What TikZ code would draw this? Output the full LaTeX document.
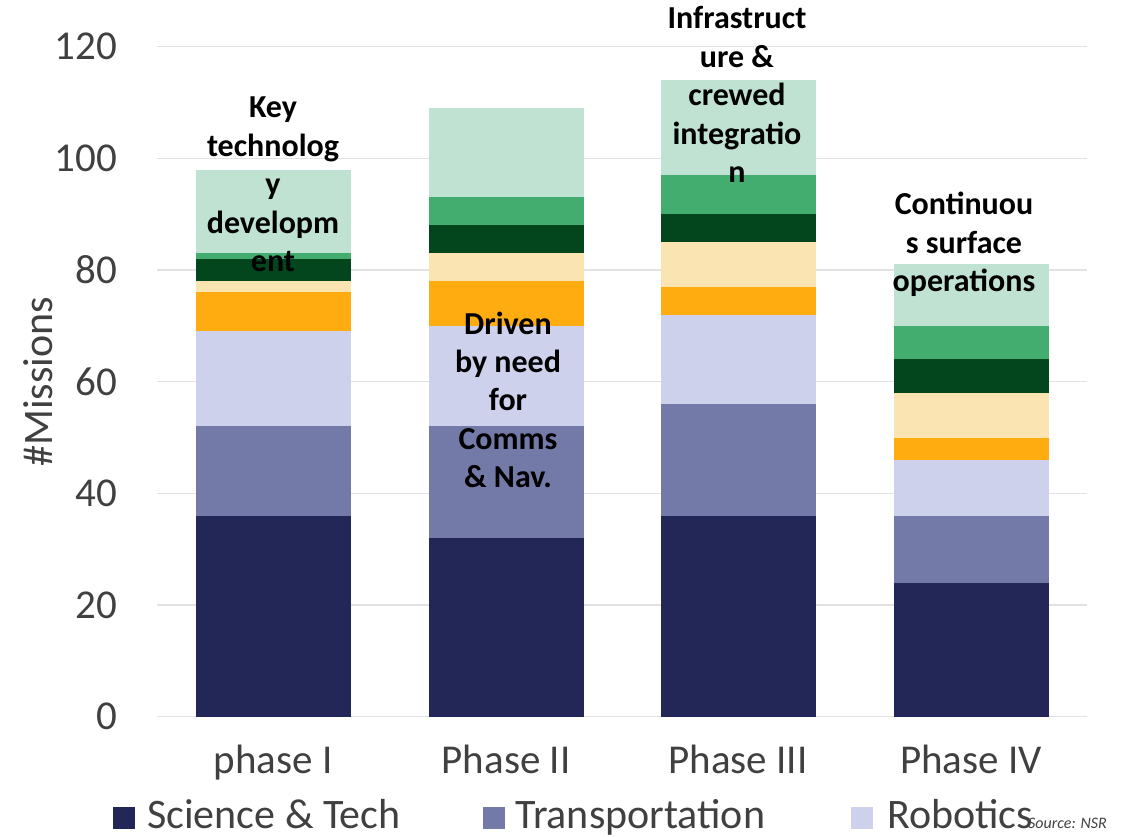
\documentclass[tikz,border=0pt]{standalone}
\usepackage{fontspec}
\setmainfont{Carlito}
\definecolor{sci}{HTML}{232757}
\definecolor{trans}{HTML}{737AA8}
\definecolor{robot}{HTML}{CDD1EC}
\definecolor{orng}{HTML}{FEAC10}
\definecolor{pale}{HTML}{FAE5B2}
\definecolor{dkgreen}{HTML}{03461E}
\definecolor{mdgreen}{HTML}{42AD6F}
\definecolor{ltgreen}{HTML}{C0E2D2}
\definecolor{gridgray}{HTML}{E2E2E2}
\definecolor{axisgray}{HTML}{404040}
\begin{document}
\begin{tikzpicture}[x=1pt, y=1pt,
  gridline/.style={draw=gridgray, line width=1.3pt},
  tick/.style={text=axisgray, font=\TICK, anchor=east, inner sep=0pt},
  cat/.style={text=axisgray, font=\TICK, anchor=base, inner sep=0pt},
  legtext/.style={text=axisgray, font=\LEG, anchor=base west, inner sep=0pt},
  legbox/.style={inner sep=0pt, minimum size=22pt, anchor=south west},
  note/.style={font=\NOTE, align=center, anchor=base, inner sep=0pt}]

  \newcommand\U{5.5833}
  \newcommand\W{155}
  \newcommand\BI{196}
  \newcommand\BII{428.5}
  \newcommand\BIII{661}
  \newcommand\BIV{893.5}
  \newcommand\TICK{\fontsize{41}{49}\selectfont}
  \newcommand\LEG{\fontsize{42}{50}\selectfont}
  \newcommand\NOTE{\fontsize{32}{38.5}\selectfont\bfseries}

  \useasboundingbox (0,-119.3) rectangle (1140,716.7);

  % grid and y ticks
  \draw[gridline] (157,0) -- (1087,0);
  \draw[gridline] (157,20*\U) -- (1087,20*\U);
  \draw[gridline] (157,40*\U) -- (1087,40*\U);
  \draw[gridline] (157,60*\U) -- (1087,60*\U);
  \draw[gridline] (157,80*\U) -- (1087,80*\U);
  \draw[gridline] (157,100*\U) -- (1087,100*\U);
  \draw[gridline] (157,120*\U) -- (1087,120*\U);
  \node[tick] (t0) at (117,0) {0};
  \node[tick] (t20) at (117,20*\U) {20};
  \node[tick] (t40) at (117,40*\U) {40};
  \node[tick] (t60) at (117,60*\U) {60};
  \node[tick] (t80) at (117,80*\U) {80};
  \node[tick] (t100) at (117,100*\U) {100};
  \node[tick] (t120) at (117,120*\U) {120};
  \node[text=axisgray, font=\LEG, rotate=90, inner sep=0pt] (ylab) at (38,334.7) {\#Missions};

  % phase I
  \fill[sci] (\BI,0) rectangle (\BI+\W,36*\U);
  \fill[trans] (\BI,36*\U) rectangle (\BI+\W,52*\U);
  \fill[robot] (\BI,52*\U) rectangle (\BI+\W,69*\U);
  \fill[orng] (\BI,69*\U) rectangle (\BI+\W,76*\U);
  \fill[pale] (\BI,76*\U) rectangle (\BI+\W,78*\U);
  \fill[dkgreen] (\BI,78*\U) rectangle (\BI+\W,82*\U);
  \fill[mdgreen] (\BI,82*\U) rectangle (\BI+\W,83*\U);
  \fill[ltgreen] (\BI,83*\U) rectangle (\BI+\W,98*\U);

  % phase II
  \fill[sci] (\BII,0) rectangle (\BII+\W,32*\U);
  \fill[trans] (\BII,32*\U) rectangle (\BII+\W,52*\U);
  \fill[robot] (\BII,52*\U) rectangle (\BII+\W,70*\U);
  \fill[orng] (\BII,70*\U) rectangle (\BII+\W,78*\U);
  \fill[pale] (\BII,78*\U) rectangle (\BII+\W,83*\U);
  \fill[dkgreen] (\BII,83*\U) rectangle (\BII+\W,88*\U);
  \fill[mdgreen] (\BII,88*\U) rectangle (\BII+\W,93*\U);
  \fill[ltgreen] (\BII,93*\U) rectangle (\BII+\W,109*\U);

  % phase III
  \fill[sci] (\BIII,0) rectangle (\BIII+\W,36*\U);
  \fill[trans] (\BIII,36*\U) rectangle (\BIII+\W,56*\U);
  \fill[robot] (\BIII,56*\U) rectangle (\BIII+\W,72*\U);
  \fill[orng] (\BIII,72*\U) rectangle (\BIII+\W,77*\U);
  \fill[pale] (\BIII,77*\U) rectangle (\BIII+\W,85*\U);
  \fill[dkgreen] (\BIII,85*\U) rectangle (\BIII+\W,90*\U);
  \fill[mdgreen] (\BIII,90*\U) rectangle (\BIII+\W,97*\U);
  \fill[ltgreen] (\BIII,97*\U) rectangle (\BIII+\W,114*\U);

  % phase IV
  \fill[sci] (\BIV,0) rectangle (\BIV+\W,24*\U);
  \fill[trans] (\BIV,24*\U) rectangle (\BIV+\W,36*\U);
  \fill[robot] (\BIV,36*\U) rectangle (\BIV+\W,46*\U);
  \fill[orng] (\BIV,46*\U) rectangle (\BIV+\W,50*\U);
  \fill[pale] (\BIV,50*\U) rectangle (\BIV+\W,58*\U);
  \fill[dkgreen] (\BIV,58*\U) rectangle (\BIV+\W,64*\U);
  \fill[mdgreen] (\BIV,64*\U) rectangle (\BIV+\W,70*\U);
  \fill[ltgreen] (\BIV,70*\U) rectangle (\BIV+\W,81*\U);

  % notes on the bars (base = last line)
  \node[note] (keytech) at (273,444.7) {Key\\technolog\\y\\developm\\ent};
  \node[note] (commsnav) at (508,228.7) {Driven\\by need\\for\\Comms\\\& Nav.};
  \node[note] (infra) at (737,533.7) {Infrastruct\\ure \&\\crewed\\integratio\\n};
  \node[note] (surface) at (964,424.7) {Continuou\\s surface\\operations};

  % categories
  \node[cat] (phI) at (273,-56.3) {phase I};
  \node[cat] (phII) at (506,-56.3) {Phase II};
  \node[cat] (phIII) at (738,-56.3) {Phase III};
  \node[cat] (phIV) at (971,-56.3) {Phase IV};

  % legend
  \node[legbox, fill=sci] (boxsci) at (113,-112.3) {};
  \node[legtext] (legsci) at (147,-111.3) {Science \& Tech};
  \node[legbox, fill=trans] (boxtrans) at (483,-112.3) {};
  \node[legtext] (legtrans) at (515,-111.3) {Transportation};
  \node[legbox, fill=robot] (boxrobot) at (851,-112.3) {};
  \node[legtext] (legrobot) at (887,-111.3) {Robotics};
  \node[text=axisgray, font=\fontsize{16}{19}\selectfont\itshape, anchor=base west, inner sep=0pt] (source) at (1028,-111.3) {Source: NSR};

\end{tikzpicture}
\end{document}
